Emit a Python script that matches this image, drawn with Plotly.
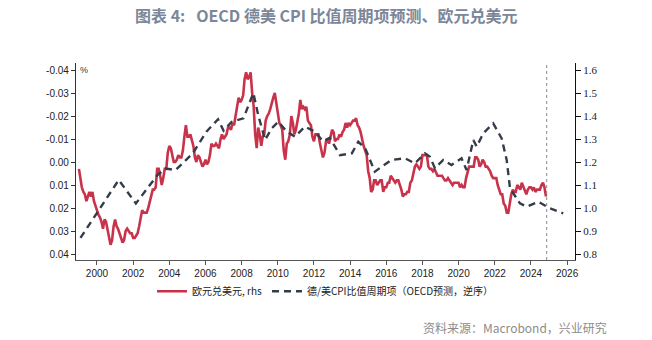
import pandas as pd
import plotly.graph_objects as go

# ---------------- data ----------------
# EUR/USD, monthly, Jan 1999 - Nov 2024 (right axis)
eurusd = [
    1.17, 1.12, 1.09, 1.07, 1.06, 1.03, 1.05, 1.07, 1.05, 1.07, 1.03, 1.01,  # 1999
    0.99, 0.97, 0.96, 0.94, 0.91, 0.95, 0.94, 0.90, 0.87, 0.84, 0.86, 0.92,  # 2000
    0.95, 0.92, 0.91, 0.89, 0.87, 0.85, 0.86, 0.90, 0.91, 0.90, 0.89, 0.89,  # 2001
    0.87, 0.87, 0.88, 0.89, 0.92, 0.96, 0.99, 0.98, 0.98, 0.98, 1.00, 1.03,  # 2002
    1.06, 1.08, 1.08, 1.09, 1.17, 1.17, 1.14, 1.10, 1.13, 1.17, 1.17, 1.24,  # 2003
    1.27, 1.26, 1.23, 1.20, 1.20, 1.21, 1.23, 1.22, 1.22, 1.25, 1.31, 1.36,  # 2004
    1.31, 1.31, 1.32, 1.29, 1.27, 1.22, 1.20, 1.23, 1.22, 1.20, 1.18, 1.19,  # 2005
    1.21, 1.19, 1.20, 1.23, 1.28, 1.27, 1.27, 1.28, 1.27, 1.26, 1.30, 1.32,  # 2006
    1.30, 1.31, 1.32, 1.35, 1.35, 1.34, 1.37, 1.36, 1.40, 1.43, 1.48, 1.46,  # 2007
    1.47, 1.49, 1.56, 1.59, 1.56, 1.57, 1.59, 1.50, 1.44, 1.32, 1.26, 1.35,  # 2008
    1.32, 1.27, 1.31, 1.32, 1.38, 1.40, 1.41, 1.43, 1.46, 1.48, 1.50, 1.46,  # 2009
    1.43, 1.37, 1.36, 1.34, 1.25, 1.21, 1.28, 1.29, 1.32, 1.40, 1.37, 1.32,  # 2010
    1.34, 1.37, 1.41, 1.47, 1.43, 1.44, 1.43, 1.44, 1.38, 1.37, 1.36, 1.31,  # 2011
    1.29, 1.32, 1.32, 1.32, 1.28, 1.25, 1.22, 1.24, 1.29, 1.30, 1.28, 1.31,  # 2012
    1.34, 1.33, 1.29, 1.30, 1.30, 1.32, 1.31, 1.33, 1.34, 1.37, 1.35, 1.37,  # 2013
    1.36, 1.37, 1.38, 1.38, 1.39, 1.36, 1.35, 1.33, 1.29, 1.27, 1.25, 1.23,  # 2014
    1.16, 1.13, 1.07, 1.08, 1.12, 1.12, 1.10, 1.11, 1.12, 1.12, 1.07, 1.09,  # 2015
    1.09, 1.11, 1.11, 1.14, 1.13, 1.12, 1.11, 1.12, 1.12, 1.10, 1.08, 1.05,  # 2016
    1.06, 1.06, 1.07, 1.07, 1.11, 1.12, 1.15, 1.18, 1.19, 1.18, 1.17, 1.18,  # 2017
    1.23, 1.23, 1.23, 1.23, 1.18, 1.17, 1.17, 1.16, 1.17, 1.15, 1.14, 1.14,  # 2018
    1.14, 1.14, 1.13, 1.12, 1.12, 1.13, 1.12, 1.11, 1.10, 1.11, 1.11, 1.11,  # 2019
    1.11, 1.09, 1.10, 1.09, 1.09, 1.13, 1.15, 1.18, 1.18, 1.18, 1.18, 1.22,  # 2020
    1.22, 1.21, 1.18, 1.19, 1.21, 1.20, 1.18, 1.18, 1.17, 1.16, 1.14, 1.13,  # 2021
    1.13, 1.13, 1.10, 1.08, 1.06, 1.06, 1.02, 1.01, 0.98, 0.98, 1.02, 1.06,  # 2022
    1.08, 1.07, 1.07, 1.10, 1.09, 1.08, 1.11, 1.09, 1.07, 1.06, 1.08, 1.09,  # 2023
    1.09, 1.08, 1.09, 1.07, 1.08, 1.08, 1.08, 1.10, 1.11, 1.09, 1.05,        # 2024
]
eurusd_dates = pd.date_range("1999-01-01", periods=len(eurusd), freq="MS")

# Germany/US CPI ratio cyclical component (OECD forecast), left axis reversed
cpi_dates = [
    "1999-02-01", "2001-03-15", "2002-02-25", "2003-05-07", "2003-10-20",
    "2004-05-07", "2005-04-20", "2005-09-12", "2006-01-20", "2006-09-12",
    "2007-01-01", "2007-06-15", "2008-02-06", "2008-08-25", "2008-12-01",
    "2009-04-20", "2009-08-28", "2010-01-12", "2010-07-01", "2010-12-15",
    "2011-07-01", "2012-01-22", "2012-07-01", "2012-11-15", "2013-06-10",
    "2014-02-05", "2014-06-15", "2014-11-01", "2015-05-15", "2015-10-01",
    "2016-04-15", "2017-01-15", "2017-08-01", "2018-02-20", "2018-06-01",
    "2018-09-10", "2019-02-25", "2019-08-10", "2020-03-01", "2020-06-10",
    "2020-10-25", "2021-01-01", "2021-05-15", "2021-12-01", "2022-05-20",
    "2022-08-30", "2022-11-05", "2023-05-25", "2023-10-10", "2024-05-30",
    "2025-01-20", "2025-10-15",
]
cpi_cycle = [
    0.0330, 0.0078, 0.0180, 0.0057, 0.0028,
    0.0035, -0.0038, -0.0088, -0.0132, -0.0186,
    -0.0136, -0.0175, -0.0190, -0.0300, -0.0204,
    -0.0096, -0.0146, -0.0175, -0.0132, -0.0110,
    -0.0154, -0.0132, -0.0090, -0.0105, -0.0030,
    -0.0038, -0.0088, -0.0060, 0.0042, 0.0020,
    -0.0009, -0.0016, 0.0006, -0.0038, -0.0023,
    0.0027, -0.0009, 0.0013, -0.0016, 0.0035,
    -0.0096, -0.0067, -0.0125, -0.0168, -0.0103,
    -0.0009, 0.0114, 0.0180, 0.0194, 0.0173,
    0.0201, 0.0223,
]

left_ticks = [-0.04, -0.03, -0.02, -0.01, 0.00, 0.01, 0.02, 0.03, 0.04]
left_labels = ["-0.04", "-0.03", "-0.02", "-0.01", "0.00", "0.01", "0.02", "0.03", "0.04"]
right_ticks = [0.8, 0.9, 1.0, 1.1, 1.2, 1.3, 1.4, 1.5, 1.6]
forecast_start = "2024-11-15"

title_text = "图表 4:   OECD 德美 CPI 比值周期项预测、欧元兑美元"
source_text = "资料来源：Macrobond，兴业研究"
name_fx = "欧元兑美元, rhs"
name_cpi = "德/美CPI比值周期项（OECD预测，逆序）"

# ---------------- figure ----------------
fig = go.Figure()

fig.add_trace(go.Scatter(
    x=eurusd_dates, y=eurusd, name=name_fx, mode="lines",
    line=dict(color="#c8334b", width=2.6), yaxis="y",
))
fig.add_trace(go.Scatter(
    x=cpi_dates, y=cpi_cycle, name=name_cpi, mode="lines",
    line=dict(color="#353c49", width=2.4, dash="7px,5px"), yaxis="y2",
))

tick_font = dict(family="Liberation Sans, Arial, sans-serif", size=10, color="#222")

fig.update_layout(
    width=652, height=340,
    margin=dict(l=76, r=77, t=63, b=80),
    paper_bgcolor="white", plot_bgcolor="white",
    showlegend=True,
    legend=dict(
        orientation="h", x=0.5, xanchor="center", y=-0.085, yanchor="top",
        font=dict(family="Noto Sans CJK SC, sans-serif", size=10, color="#222"),
        itemwidth=30, tracegroupgap=0, bgcolor="rgba(0,0,0,0)",
    ),
    xaxis=dict(
        type="date",
        range=["1998-11-03", "2026-06-10"],
        tick0="2000-01-01", dtick="M24", tickformat="%Y",
        showgrid=False, zeroline=False,
        showline=True, linecolor="#555", linewidth=1.2,
        ticks="outside", ticklen=4, tickcolor="#555",
        tickfont=tick_font,
    ),
    yaxis=dict(
        side="right", range=[0.774, 1.6305],
        tickvals=right_ticks, tickformat=".1f",
        showgrid=False, zeroline=False,
        showline=True, linecolor="#111", linewidth=1.2,
        ticks="outside", ticklen=5, tickcolor="#111",
        tickfont=dict(family="Liberation Serif, Times New Roman, serif", size=11, color="#222"),
    ),
    yaxis2=dict(
        side="left", overlaying="y", anchor="x",
        range=[0.0426, -0.04305],
        tickvals=left_ticks, ticktext=left_labels,
        showgrid=False, zeroline=False,
        showline=True, linecolor="#333", linewidth=1.2,
        ticks="outside", ticklen=4, tickcolor="#333",
        tickfont=tick_font,
    ),
    shapes=[dict(
        type="line", xref="x", yref="paper",
        x0=forecast_start, x1=forecast_start, y0=0, y1=1,
        line=dict(color="#8a8a8a", width=1, dash="3px,3px"),
    )],
    annotations=[
        dict(text=title_text, xref="paper", yref="paper", x=(326 - 76) / 499, y=(260 - 15) / 197,
             xanchor="center", yanchor="middle", showarrow=False,
             font=dict(family="Noto Sans CJK SC, sans-serif", size=16, color="#7b8799", weight="bold")),
        dict(text=source_text, xref="paper", yref="paper", x=(609 - 76) / 499, y=(260 - 327) / 197,
             xanchor="right", yanchor="middle", showarrow=False,
             font=dict(family="Noto Sans CJK SC, sans-serif", size=12, color="#8c8c8c")),
        dict(text="%", xref="paper", yref="paper", x=(84 - 76) / 499, y=(260 - 70) / 197,
             xanchor="center", yanchor="middle", showarrow=False,
             font=dict(family="Liberation Sans, sans-serif", size=9, color="#333")),
    ],
)

fig.write_html("out.html")
